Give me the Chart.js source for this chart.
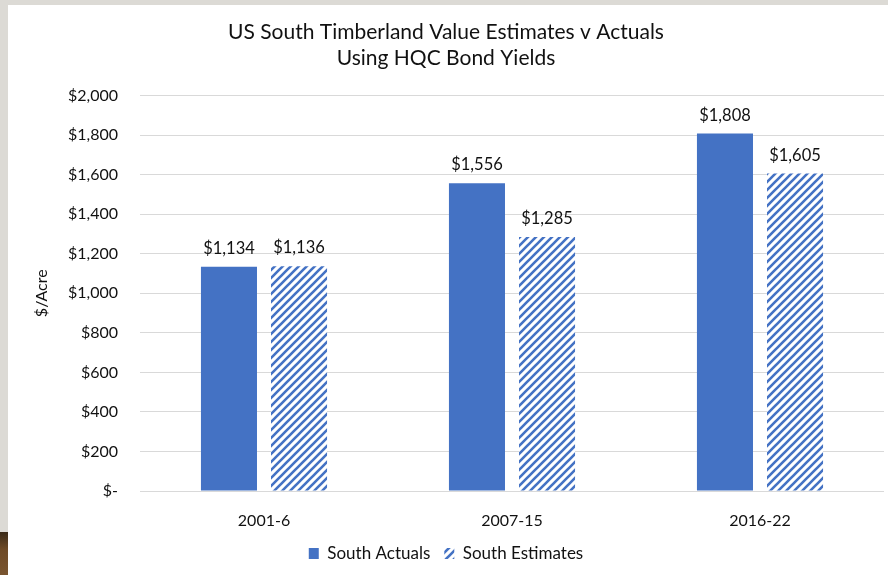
<!DOCTYPE html>
<html>
<head>
<meta charset="utf-8">
<script src="https://cdn.jsdelivr.net/npm/chart.js@4/dist/chart.umd.min.js"></script>
<style>
  html, body { margin: 0; padding: 0; }
  body { width: 888px; height: 575px; background: #dcdad5; position: relative; overflow: hidden; }
  .photo { position: absolute; left: 0; top: 532px; width: 8px; height: 43px; background: linear-gradient(#3a2a18, #6e4a26 40%, #7a5530); }
  .slide { position: absolute; left: 8px; top: 5px; width: 880px; height: 570px; background: #fff; }
</style>
</head>
<body>
<div class="photo"></div>
<div class="slide"><canvas id="chart" width="880" height="570"></canvas></div>
<script>
const categories = ['2001-6', '2007-15', '2016-22'];
const southActuals = [1134, 1556, 1808];
const southEstimates = [1136, 1285, 1605];
const yTicks = [0, 200, 400, 600, 800, 1000, 1200, 1400, 1600, 1800, 2000];

const blue = '#4472C4';
const font = 'Lato, "Open Sans", sans-serif';

function money(v) {
  if (v === 0) return '$-';
  return '$' + v.toLocaleString('en-US');
}

// diagonal stripes for the estimates
function stripes() {
  const s = 8;
  const c = document.createElement('canvas');
  c.width = s; c.height = s;
  const g = c.getContext('2d');
  g.fillStyle = '#fff';
  g.fillRect(0, 0, s, s);
  g.strokeStyle = blue;
  g.lineWidth = 2.6;
  g.beginPath();
  g.moveTo(-2, s + 2); g.lineTo(s + 2, -2);
  g.moveTo(-2, 2); g.lineTo(2, -2);
  g.moveTo(s - 2, s + 2); g.lineTo(s + 2, s - 2);
  g.stroke();
  return g.createPattern(c, 'repeat');
}

const valueLabels = {
  id: 'valueLabels',
  afterDatasetsDraw(chart) {
    const ctx = chart.ctx;
    ctx.save();
    ctx.font = '16.5px ' + font;
    ctx.fillStyle = '#111';
    ctx.textAlign = 'center';
    ctx.textBaseline = 'bottom';
    chart.data.datasets.forEach((ds, i) => {
      chart.getDatasetMeta(i).data.forEach((bar, j) => {
        ctx.fillText(money(ds.data[j]), bar.x, bar.y - 10);
      });
    });
    ctx.restore();
  }
};

const ctx = document.getElementById('chart').getContext('2d');
new Chart(ctx, {
  type: 'bar',
  data: {
    labels: categories,
    datasets: [
      { label: 'South Actuals', data: southActuals, backgroundColor: blue },
      { label: 'South Estimates', data: southEstimates, backgroundColor: stripes() }
    ]
  },
  options: {
    responsive: false,
    animation: false,
    categoryPercentage: 0.565,
    barPercentage: 0.8,
    layout: { padding: { left: 0, right: 4, top: 8, bottom: 3 } },
    scales: {
      y: {
        min: 0,
        max: 2000,
        afterBuildTicks(scale) { scale.ticks = yTicks.map(v => ({ value: v })); },
        afterFit(scale) { scale.width = 132; },
        ticks: {
          callback: v => money(v),
          color: '#111',
          font: { family: font, size: 16 },
          padding: 22
        },
        grid: { color: '#d9d9d9', lineWidth: 1, drawTicks: false },
        border: { display: false },
        title: {
          display: true,
          text: '$/Acre',
          color: '#111',
          font: { family: font, size: 16 },
          padding: { top: 24, bottom: 0 }
        }
      },
      x: {
        afterFit(scale) { scale.height = 40; },
        grid: { display: false, drawTicks: false },
        border: { display: false },
        ticks: { color: '#111', font: { family: font, size: 16 }, padding: 20 }
      }
    },
    plugins: {
      title: {
        display: true,
        text: ['US South Timberland Value Estimates v Actuals', 'Using HQC Bond Yields'],
        color: '#111',
        font: { family: font, size: 21, weight: 'normal', lineHeight: 1.25 },
        padding: { top: 6, bottom: 24 }
      },
      legend: {
        position: 'bottom',
        labels: {
          color: '#111',
          font: { family: font, size: 17 },
          boxWidth: 10,
          boxHeight: 11,
          padding: 14
        }
      },
      tooltip: { enabled: false }
    }
  },
  plugins: [valueLabels]
});
</script>
</body>
</html>
